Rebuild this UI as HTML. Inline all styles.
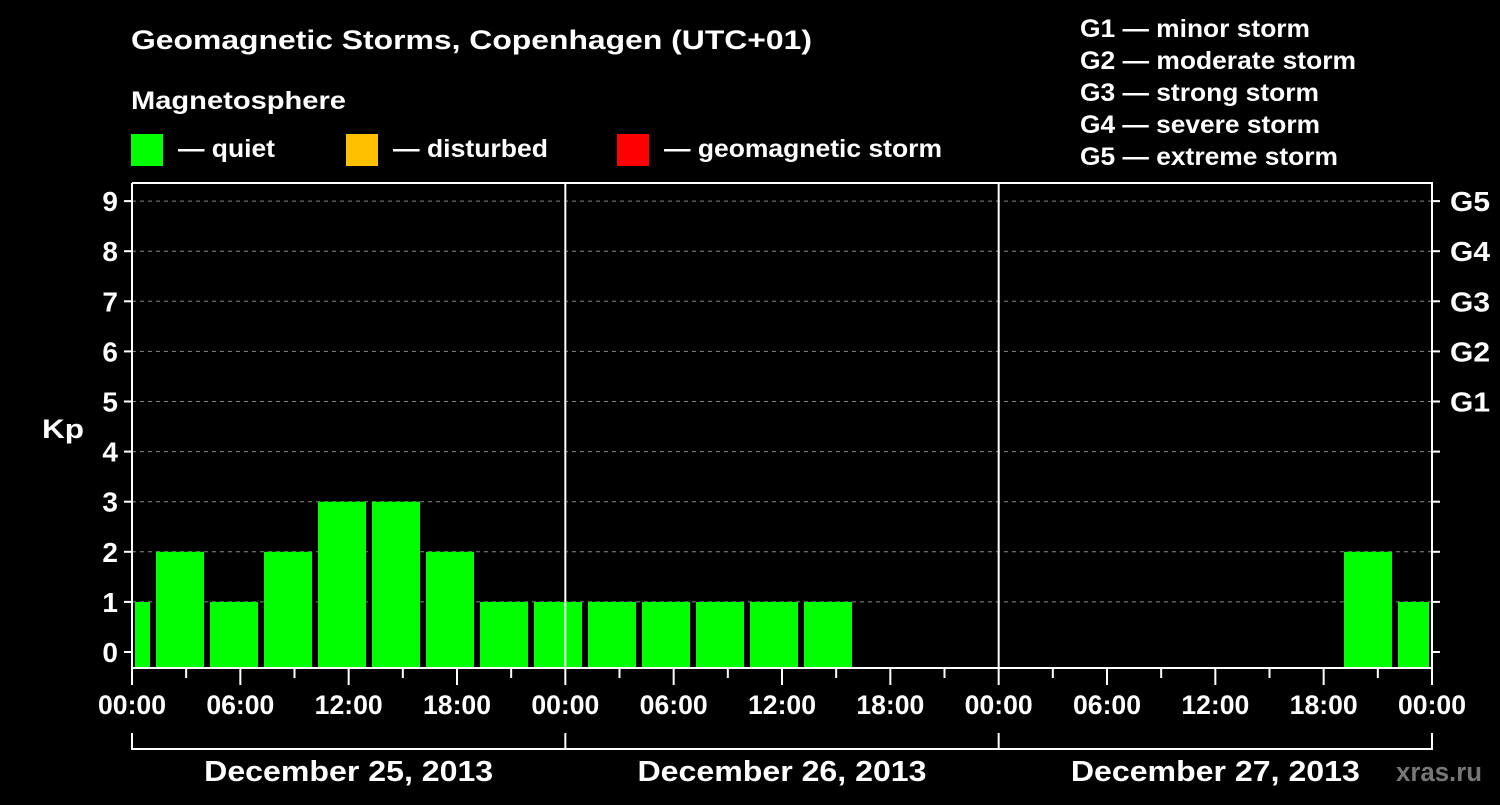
<!DOCTYPE html>
<html><head><meta charset="utf-8"><style>
body{margin:0;background:#000;width:1500px;height:800px;overflow:hidden}
text{font-family:"Liberation Sans",sans-serif;font-weight:bold;fill:#fff}
</style></head><body>
<svg id="chart" width="1500" height="800" xmlns="http://www.w3.org/2000/svg">
<rect width="1500" height="800" fill="#000"/>
<text x="131" y="49" font-size="27" textLength="681" lengthAdjust="spacingAndGlyphs">Geomagnetic Storms, Copenhagen (UTC+01)</text>
<text x="131" y="109" font-size="25" textLength="215" lengthAdjust="spacingAndGlyphs">Magnetosphere</text>
<g>
<rect x="131" y="134" width="32" height="32" fill="#00ff00"/>
<text x="178" y="157" font-size="25" textLength="97" lengthAdjust="spacingAndGlyphs">— quiet</text>
<rect x="346" y="134" width="32" height="32" fill="#ffc000"/>
<text x="393" y="157" font-size="25" textLength="155" lengthAdjust="spacingAndGlyphs">— disturbed</text>
<rect x="617" y="134" width="32" height="32" fill="#ff0000"/>
<text x="664" y="157" font-size="25" textLength="278" lengthAdjust="spacingAndGlyphs">— geomagnetic storm</text>
</g>
<g font-size="25">
<text x="1080" y="37" textLength="230" lengthAdjust="spacingAndGlyphs">G1 — minor storm</text>
<text x="1080" y="69" textLength="276" lengthAdjust="spacingAndGlyphs">G2 — moderate storm</text>
<text x="1080" y="101" textLength="239" lengthAdjust="spacingAndGlyphs">G3 — strong storm</text>
<text x="1080" y="133" textLength="240" lengthAdjust="spacingAndGlyphs">G4 — severe storm</text>
<text x="1080" y="165" textLength="258" lengthAdjust="spacingAndGlyphs">G5 — extreme storm</text>
</g>
<text x="42" y="438" font-size="27" textLength="42" lengthAdjust="spacingAndGlyphs">Kp</text>
<text x="1396" y="781" font-size="27" style="fill:#777" textLength="86" lengthAdjust="spacingAndGlyphs">xras.ru</text>
<g id="grid"></g><g id="bars"></g><g id="axes"></g>
</svg>
<script>
// Kp values per 3-hour UTC interval, starting Dec 24 21:00 UTC
const kpStartHourUTC = -3;
const kpValues = [1, 2,1,2,3,3,2,1,1, 1,1,1,1,1,null,null,null, null,null,null,null,null,null,2,1];
const yTicks = [0,1,2,3,4,5,6,7,8,9];
const gLabels = ["G1","G2","G3","G4","G5"];
const gLevels = [5,6,7,8,9];
const xTickLabels = ["00:00","06:00","12:00","18:00","00:00","06:00","12:00","18:00","00:00","06:00","12:00","18:00","00:00"];
const dayLabels = ["December 25, 2013","December 26, 2013","December 27, 2013"];
const tzOffset = 1;

const NS="http://www.w3.org/2000/svg";
const L=132,R=1432,T=183,B=668;
const X=h=>L+(R-L)*h/72;
const BX=h=>138+18*h;
const Y=v=>652-v*50.1;
function mk(tag,attrs,parent,txt){const e=document.createElementNS(NS,tag);for(const k in attrs)e.setAttribute(k,attrs[k]);if(txt!==undefined)e.textContent=txt;document.getElementById(parent).appendChild(e);return e;}
function col(v){return v>=5?"#ff0000":(v>=4?"#ffc000":"#00ff00");}
yTicks.forEach(v=>{
  if(v>0){const g=mk('line',{x1:L,x2:R,y1:Y(v),y2:Y(v),stroke:'#888','stroke-dasharray':'4,4','stroke-width':1},'grid');
  }
  const t=mk('line',{x1:L-8,x2:L,y1:Y(v),y2:Y(v),stroke:'#fff','stroke-width':2},'axes');
  
  const t2=mk('line',{x1:R,x2:R+8,y1:Y(v),y2:Y(v),stroke:'#fff','stroke-width':2},'axes');
  
  const l=mk('text',{x:L-14,y:Y(v)+10,'text-anchor':'end','font-size':28},'axes',String(v));
  
});
gLevels.forEach((v,i)=>{
  const l=mk('text',{x:R+18,y:Y(v)+10,'font-size':28,textLength:40,lengthAdjust:'spacingAndGlyphs'},'axes',gLabels[i]);
  
});
kpValues.forEach((v,i)=>{
  if(v===null)return;
  let h0=kpStartHourUTC+i*3+tzOffset;
  let x0=Math.max(BX(h0),L+3),x1=Math.min(BX(h0)+48,R-3);
  const r=mk('rect',{x:x0,y:Y(v),width:x1-x0,height:B-1-Y(v),fill:col(v)},'bars');
  
});
const f=mk('path',{d:`M${L} ${T}V${B}H${R}V${T}H${L}`,fill:'none',stroke:'#fff','stroke-width':2},'axes');

[24,48].forEach(h=>{const d=mk('line',{x1:X(h),x2:X(h),y1:T,y2:B,stroke:'#fff','stroke-width':2},'axes');
});
for(let h=0;h<=72;h+=3){
  const major=h%6===0;
  const t=mk('line',{x1:X(h),x2:X(h),y1:B,y2:major?B+17:B+10,stroke:'#fff','stroke-width':2},'axes');
  
}
xTickLabels.forEach((s,i)=>{
  const l=mk('text',{x:X(i*6),y:B+46,'text-anchor':'middle','font-size':27,textLength:68,lengthAdjust:'spacingAndGlyphs'},'axes',s);
  
});
const br=mk('path',{d:`M${X(0)} 733V749H${X(72)}V733M${X(24)} 733V749M${X(48)} 733V749`,fill:'none',stroke:'#fff','stroke-width':2},'axes');

dayLabels.forEach((s,i)=>{
  const l=mk('text',{x:X(i*24+12),y:781,'text-anchor':'middle','font-size':29,textLength:289,lengthAdjust:'spacingAndGlyphs'},'axes',s);
  
});
</script>
</body></html>
